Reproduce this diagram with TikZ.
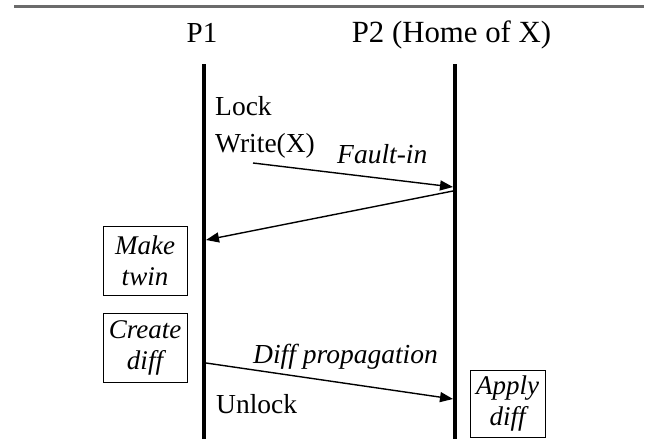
\documentclass[tikz,border=0pt]{standalone}
\usepackage{fontspec}
\setmainfont{Liberation Serif}
\usetikzlibrary{arrows.meta}
\begin{document}
\begin{tikzpicture}[x=1pt,y=-1pt,
  txt/.style={font=\fontsize{27.5}{37}\selectfont, inner sep=0pt},
  itxt/.style={font=\fontsize{27.5}{37}\selectfont\itshape, inner sep=0pt},
  head/.style={font=\fontsize{29}{37}\selectfont, inner sep=0pt},
  actbox/.style={draw, line width=1pt, font=\fontsize{27}{31}\selectfont\itshape, align=center, inner sep=1pt},
  life/.style={line width=4pt},
  msg/.style={line width=1.4pt, -{Triangle[length=13pt,width=10pt]}}]
\useasboundingbox (0,0) rectangle (653,439);
\coordinate (rl) at (14,6.5);
\coordinate (rr) at (644,6.5);
\draw[black!58, line width=2.2pt] (rl) -- (rr);
% headers
\node[head, anchor=base] (p1) at (202,42) {P1};
\node[head, font=\fontsize{30.8}{37}\selectfont, anchor=base] (p2) at (451.5,42) {P2 (Home of X)};
% lifelines
\coordinate (l1t) at (204,64);
\coordinate (l1b) at (204,439);
\coordinate (l2t) at (455,64);
\coordinate (l2b) at (455,439);
\draw[life] (l1t) -- (l1b);
\draw[life] (l2t) -- (l2b);
% texts
\node[txt, anchor=base west] (lock) at (215,115) {Lock};
\node[txt, anchor=base west] (write) at (215,152) {Write(X)};
\node[itxt, anchor=base west] (fault) at (337,163) {Fault-in};
\node[itxt, anchor=base west] (dprop) at (253,363) {Diff propagation};
\node[txt, anchor=base west] (unlock) at (216,413) {Unlock};
% boxes
\node[actbox, minimum width=84pt, minimum height=69pt] (twin) at (145,260.5) {Make\\twin};
\node[actbox, minimum width=84pt, minimum height=69pt] (cdiff) at (145,347.5) {Create\\diff};
\node[actbox, minimum width=75pt, minimum height=67pt] (adiff) at (507.5,403.5) {Apply\\diff};
% messages
\coordinate (m1s) at (253,163);
\coordinate (m1e) at (453,187);
\coordinate (m2s) at (453,191);
\coordinate (m2e) at (206,240);
\coordinate (m3s) at (206,363);
\coordinate (m3e) at (453,399);
\draw[msg] (m1s) -- (m1e);
\draw[msg] (m2s) -- (m2e);
\draw[msg] (m3s) -- (m3e);
\end{tikzpicture}
\end{document}
